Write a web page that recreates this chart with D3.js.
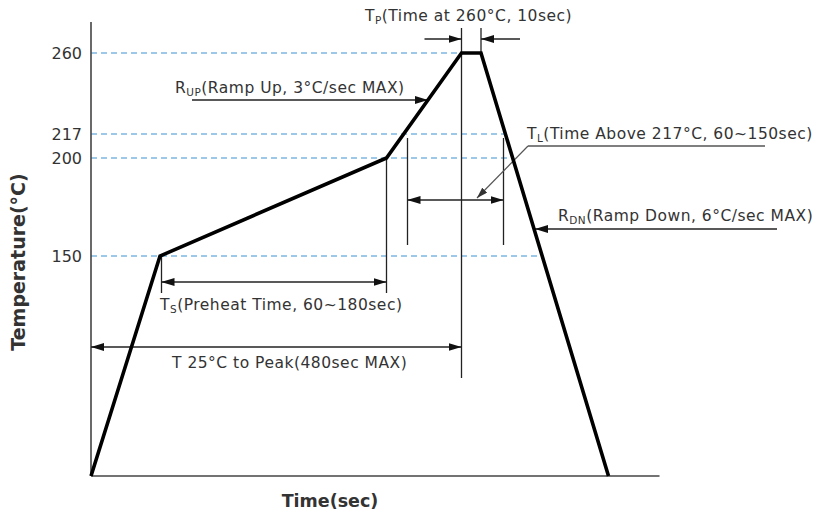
<!DOCTYPE html>
<html>
<head>
<meta charset="utf-8">
<script src="https://cdn.jsdelivr.net/npm/d3@7"></script>
<style>
  body { margin: 0; background: #fff; }
  text { font-family: "DejaVu Sans", Verdana, sans-serif; fill: #333; }
</style>
</head>
<body>
<svg width="820" height="517"></svg>
<script>
// reflow profile (schematic): time in sec, temperature in °C
const profileTime = [0, 46, 197, 247, 260, 345];
const profileTemp = [25, 150, 200, 260, 260, 25];

const refTemps = [150, 200, 217, 260];
const tickLabels = ['150', '200', '217', '260'];

// annotation times
const preheatTimes = [47, 197];   // Ts
const liquidTimes = [211, 275];   // TL
const peakTimes = [247, 260];     // Tp

const LINE_COLOR = '#222';
const DASH_COLOR = '#3f92d2';
const LABEL_SIZE = 15.5;

var svg = d3.select('svg');

var x = d3.scaleLinear()
    .domain([0, 379])
    .range([91, 659.5]);

// the drawing is not to scale, so the temperature axis is piecewise
var y = d3.scaleLinear()
    .domain([25, 150, 200, 217, 260])
    .range([476, 256, 158, 134, 53]);

var defs = svg.append('defs');
function marker(id, color, w, h) {
    defs.append('marker')
        .attr('id', id)
        .attr('viewBox', '0 0 ' + w + ' ' + h)
        .attr('refX', w).attr('refY', h / 2)
        .attr('markerWidth', w).attr('markerHeight', h)
        .attr('markerUnits', 'userSpaceOnUse')
        .attr('orient', 'auto-start-reverse')
        .append('path')
        .attr('d', 'M0,0L' + w + ',' + (h / 2) + 'L0,' + h + 'Z')
        .attr('fill', color);
}
marker('arr', '#111', 13, 8);
marker('arrGrey', '#333', 11, 7);

function seg(x1, y1, x2, y2, opts) {
    opts = opts || {};
    var l = svg.append('line')
        .attr('x1', x1).attr('y1', y1)
        .attr('x2', x2).attr('y2', y2)
        .attr('stroke', opts.color || LINE_COLOR)
        .attr('stroke-width', opts.width || 1.3);
    if (opts.start) l.attr('marker-start', 'url(#' + opts.start + ')');
    if (opts.end) l.attr('marker-end', 'url(#' + opts.end + ')');
    return l;
}

/* ramp down segment in pixel space, used to stop the dashed lines */
var rdX0 = x(profileTime[4]), rdY0 = y(profileTemp[4]);
var rdX1 = x(profileTime[5]), rdY1 = y(profileTemp[5]);
function rampDownX(py) {
    return rdX0 + (py - rdY0) / (rdY1 - rdY0) * (rdX1 - rdX0);
}

/* dashed reference levels */
svg.selectAll('.ref')
    .data(refTemps)
    .enter().append('line')
    .attr('class', 'ref')
    .attr('x1', x(0))
    .attr('x2', d => d === 260 ? x(peakTimes[0]) : rampDownX(y(d)))
    .attr('y1', d => y(d))
    .attr('y2', d => y(d))
    .attr('stroke', DASH_COLOR)
    .attr('stroke-width', 1.2)
    .attr('stroke-dasharray', '6,4');

svg.selectAll('.tick-label')
    .data(refTemps)
    .enter().append('text')
    .attr('class', 'tick-label')
    .attr('x', 82)
    .attr('y', d => y(d))
    .attr('dy', '0.36em')
    .attr('text-anchor', 'end')
    .attr('font-size', 16)
    .text((d, i) => tickLabels[i]);

/* axes */
seg(x(0), 22, x(0), y(25), {color: '#444', width: 1.6});
seg(x(0), y(25), x.range()[1], y(25), {color: '#444', width: 1.6});

svg.append('text')
    .attr('x', 330).attr('y', 501)
    .attr('dy', '0.36em')
    .attr('text-anchor', 'middle')
    .attr('font-size', 17.5)
    .attr('font-weight', 'bold')
    .attr('fill', '#222')
    .text('Time(sec)');

svg.append('text')
    .attr('transform', 'translate(18,262) rotate(-90)')
    .attr('dy', '0.36em')
    .attr('text-anchor', 'middle')
    .attr('font-size', 19)
    .attr('font-weight', 'bold')
    .attr('fill', '#222')
    .text('Temperature(°C)');

/* Tp : time within peak */
seg(x(peakTimes[0]), 28, x(peakTimes[0]), 378);
seg(x(peakTimes[1]), 28, x(peakTimes[1]), y(260));
seg(x(peakTimes[0]) - 37, 39, x(peakTimes[0]), 39, {end: 'arr'});
seg(x(peakTimes[1]) + 39, 39, x(peakTimes[1]), 39, {end: 'arr'});

/* Ts : preheat */
seg(x(preheatTimes[0]), y(150), x(preheatTimes[0]), 293);
seg(x(preheatTimes[1]), y(200), x(preheatTimes[1]), 293);
seg(x(preheatTimes[0]), 282, x(preheatTimes[1]), 282, {start: 'arr', end: 'arr'});

/* TL : time above liquidus */
seg(x(liquidTimes[0]), 138, x(liquidTimes[0]), 245);
seg(x(liquidTimes[1]), 138, x(liquidTimes[1]), 245);
seg(x(liquidTimes[0]), 200, x(liquidTimes[1]), 200, {start: 'arr', end: 'arr'});
seg(765, 146, 528, 146, {color: '#555', width: 1.4});
seg(528, 146, 477, 198, {color: '#555', width: 1.2, end: 'arrGrey'});

/* T 25°C to peak */
seg(x(0), 347, x(peakTimes[0]), 347, {start: 'arr', end: 'arr'});

/* ramp up / ramp down pointers */
seg(192, 100, 428, 100, {end: 'arr'});
seg(777, 229, 535, 229, {end: 'arr'});

/* the profile itself */
var profile = profileTime.map((t, i) => ({time: t, temp: profileTemp[i]}));
svg.append('path')
    .datum(profile)
    .attr('fill', 'none')
    .attr('stroke', '#000')
    .attr('stroke-width', 3.6)
    .attr('stroke-linejoin', 'miter')
    .attr('d', d3.line()
        .x(d => x(d.time))
        .y(d => y(d.temp)));

/* labels with subscripts */
function label(px, py, main, sub, rest) {
    var t = svg.append('text')
        .attr('x', px).attr('y', py)
        .attr('font-size', LABEL_SIZE)
        .attr('letter-spacing', 0.5);
    t.append('tspan').text(main);
    t.append('tspan').attr('font-size', 10.5).attr('dy', 3).text(sub);
    t.append('tspan').attr('dy', -3).text(rest);
    return t;
}
label(365, 21, 'T', 'P', '(Time at 260°C, 10sec)');
label(175, 93, 'R', 'UP', '(Ramp Up, 3°C/sec MAX)');
label(527, 139, 'T', 'L', '(Time Above 217°C, 60~150sec)');
label(558, 221, 'R', 'DN', '(Ramp Down, 6°C/sec MAX)');
label(160, 310, 'T', 'S', '(Preheat Time, 60~180sec)');

svg.append('text')
    .attr('x', 172).attr('y', 368)
    .attr('font-size', LABEL_SIZE)
    .attr('letter-spacing', 0.5)
    .text('T 25°C to Peak(480sec MAX)');
</script>
</body>
</html>
